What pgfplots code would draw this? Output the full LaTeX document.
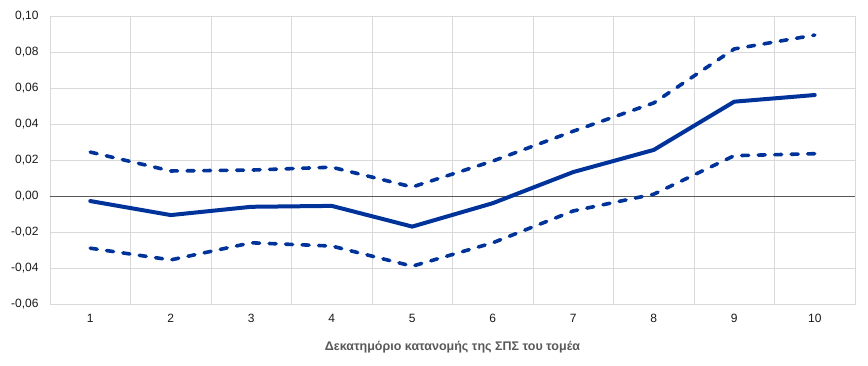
\documentclass[border=0pt]{standalone}
\usepackage{pgfplots}
\pgfplotsset{compat=1.18}
\usepackage{fontspec}
\setmainfont{Liberation Sans}
\definecolor{ecbblue}{HTML}{003399}
\definecolor{gridgray}{HTML}{D9D9D9}
\definecolor{labgray}{HTML}{595959}
\begin{document}
\begin{tikzpicture}
\begin{axis}[
  scale only axis,
  width=805pt, height=288pt,
  xmin=0.5, xmax=10.5,
  ymin=-0.06, ymax=0.10,
  xtick={1,2,3,4,5,6,7,8,9,10},
  xticklabels={1,2,3,4,5,6,7,8,9,10},
  minor xtick={1.5,2.5,3.5,4.5,5.5,6.5,7.5,8.5,9.5},
  ytick={-0.06,-0.04,-0.02,0,0.02,0.04,0.06,0.08,0.10},
  xminorgrids, ymajorgrids,
  minor grid style={gridgray, line width=0.8pt},
  major grid style={gridgray, line width=0.8pt},
  axis line style={gridgray, line width=0.8pt},
  major tick length=0pt, minor tick length=0pt,
  tick style={draw=none},
  ticklabel style={font=\fontsize{12}{14}\selectfont, text=black!90},
  /pgf/number format/assume math mode=true,
  yticklabel style={/pgf/number format/use comma,
    /pgf/number format/fixed,
    /pgf/number format/fixed zerofill,
    /pgf/number format/precision=2, xshift=-8pt},
  scaled y ticks=false,
  xticklabel style={yshift=-7pt},
  xlabel={\textbf{Δεκατημόριο κατανομής της ΣΠΣ του τομέα}},
  xlabel style={font=\fontsize{12.5}{14}\selectfont, text=labgray, yshift=-11pt},
  clip=false,
]
\addplot[labgray, line width=0.8pt, forget plot] coordinates {(0.5,0) (10.5,0)};
\addplot[ecbblue, line width=4pt, line join=round, line cap=round] coordinates {
(1,-0.0028) (2,-0.0106) (3,-0.0060) (4,-0.0055) (5,-0.0170)
(6,-0.0040) (7,0.0133) (8,0.0256) (9,0.0524) (10,0.0561)};
\addplot[ecbblue, line width=3.6pt, dash pattern=on 7pt off 9.5pt, line join=round, line cap=round] coordinates {
(1,0.0244) (2,0.0139) (3,0.0144) (4,0.0160) (5,0.0050)
(6,0.0194) (7,0.0360) (8,0.0517) (9,0.0817) (10,0.0894)};
\addplot[ecbblue, line width=3.6pt, dash pattern=on 7pt off 9.5pt, line join=round, line cap=round] coordinates {
(1,-0.0290) (2,-0.0355) (3,-0.0260) (4,-0.0278) (5,-0.0390)
(6,-0.0260) (7,-0.0083) (8,0.0010) (9,0.0224) (10,0.0235)};
\end{axis}
\pgfresetboundingbox
\useasboundingbox (current axis.south west) ++(-50pt,-62pt) rectangle ([shift={(13pt,16pt)}]current axis.north east);
\end{tikzpicture}
\end{document}
